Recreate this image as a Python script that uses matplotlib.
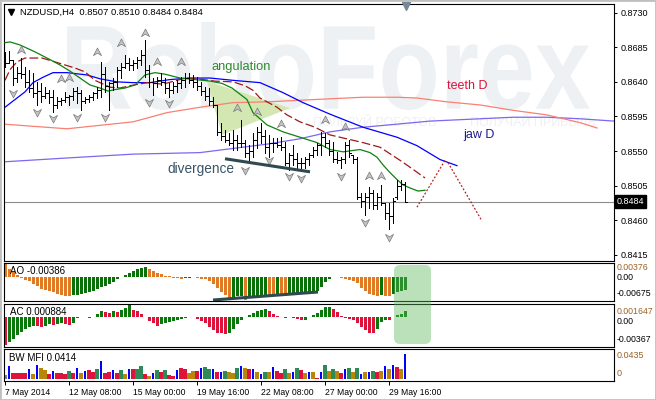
import numpy as np
import matplotlib
matplotlib.use("Agg")
import matplotlib.pyplot as plt
from matplotlib.path import Path
from matplotlib.patches import Polygon, FancyBboxPatch, PathPatch, Rectangle
from matplotlib.textpath import TextPath
from matplotlib.font_manager import FontProperties
from matplotlib.transforms import Affine2D, IdentityTransform, blended_transform_factory

plt.rcParams['font.family'] = ['Liberation Sans', 'DejaVu Sans']

# NZDUSD H4 bars, 7 May 16:00 .. 30 May 08:00
opens = [0.8672, 0.8665, 0.8668, 0.8645, 0.8652, 0.8650, 0.8640, 0.8632, 0.8625, 0.8628,
         0.8622, 0.8625, 0.8620, 0.8610, 0.8615, 0.8617, 0.8620, 0.8622, 0.8628, 0.8625,
         0.8615, 0.8618, 0.8620, 0.8625, 0.8630, 0.8650, 0.8635, 0.8638, 0.8640, 0.8655,
         0.8660, 0.8665, 0.8662, 0.8665, 0.8668, 0.8675, 0.8655, 0.8640, 0.8638, 0.8642,
         0.8640, 0.8632, 0.8630, 0.8635, 0.8638, 0.8642, 0.8645, 0.8642, 0.8640, 0.8635,
         0.8628, 0.8622, 0.8615, 0.8610, 0.8575, 0.8570, 0.8565, 0.8560, 0.8565, 0.8560,
         0.8560, 0.8548, 0.8550, 0.8565, 0.8575, 0.8570, 0.8555, 0.8560, 0.8560, 0.8558,
         0.8555, 0.8535, 0.8545, 0.8540, 0.8535, 0.8535, 0.8540, 0.8545, 0.8552, 0.8558,
         0.8568, 0.8560, 0.8550, 0.8540, 0.8538, 0.8540, 0.8558, 0.8545, 0.8540, 0.8490,
         0.8485, 0.8490, 0.8495, 0.8480, 0.8490, 0.8482, 0.8470, 0.8465, 0.8490, 0.8505,
         0.8507]
highs = [0.8679, 0.8680, 0.8669, 0.8659, 0.8671, 0.8659, 0.8656, 0.8652, 0.8640, 0.8639,
         0.8633, 0.8630, 0.8630, 0.8620, 0.8619, 0.8627, 0.8623, 0.8632, 0.8633, 0.8630,
         0.8620, 0.8623, 0.8627, 0.8633, 0.8666, 0.8659, 0.8640, 0.8645, 0.8659, 0.8665,
         0.8675, 0.8671, 0.8669, 0.8672, 0.8682, 0.8695, 0.8662, 0.8645, 0.8646, 0.8652,
         0.8645, 0.8639, 0.8640, 0.8643, 0.8646, 0.8652, 0.8652, 0.8649, 0.8646, 0.8640,
         0.8633, 0.8632, 0.8620, 0.8610, 0.8587, 0.8578, 0.8574, 0.8578, 0.8571, 0.8591,
         0.8565, 0.8558, 0.8574, 0.8581, 0.8587, 0.8578, 0.8571, 0.8567, 0.8567, 0.8568,
         0.8562, 0.8548, 0.8558, 0.8548, 0.8541, 0.8542, 0.8548, 0.8555, 0.8561, 0.8575,
         0.8574, 0.8565, 0.8562, 0.8549, 0.8542, 0.8562, 0.8565, 0.8545, 0.8542, 0.8496,
         0.8496, 0.8503, 0.8500, 0.8496, 0.8506, 0.8483, 0.8483, 0.8489, 0.8513, 0.8513,
         0.8510]
lows = [0.8659, 0.8665, 0.8636, 0.8640, 0.8645, 0.8633, 0.8627, 0.8620, 0.8610, 0.8614,
        0.8619, 0.8613, 0.8601, 0.8606, 0.8610, 0.8614, 0.8610, 0.8617, 0.8613, 0.8604,
        0.8613, 0.8614, 0.8617, 0.8619, 0.8620, 0.8627, 0.8604, 0.8630, 0.8633, 0.8645,
        0.8658, 0.8656, 0.8656, 0.8658, 0.8662, 0.8646, 0.8633, 0.8623, 0.8633, 0.8636,
        0.8626, 0.8620, 0.8626, 0.8627, 0.8632, 0.8633, 0.8639, 0.8633, 0.8630, 0.8623,
        0.8617, 0.8610, 0.8607, 0.8571, 0.8565, 0.8562, 0.8558, 0.8552, 0.8552, 0.8555,
        0.8542, 0.8536, 0.8542, 0.8554, 0.8561, 0.8548, 0.8542, 0.8549, 0.8555, 0.8552,
        0.8532, 0.8526, 0.8532, 0.8528, 0.8526, 0.8528, 0.8532, 0.8542, 0.8545, 0.8545,
        0.8555, 0.8545, 0.8536, 0.8535, 0.8528, 0.8535, 0.8542, 0.8535, 0.8487, 0.8477,
        0.8467, 0.8476, 0.8474, 0.8474, 0.8480, 0.8461, 0.8448, 0.8457, 0.8487, 0.8500,
        0.8484]
closes = [0.8665, 0.8668, 0.8645, 0.8652, 0.8650, 0.8640, 0.8632, 0.8625, 0.8628, 0.8622,
          0.8625, 0.8620, 0.8610, 0.8615, 0.8617, 0.8620, 0.8622, 0.8628, 0.8625, 0.8615,
          0.8618, 0.8620, 0.8625, 0.8630, 0.8650, 0.8635, 0.8638, 0.8640, 0.8655, 0.8660,
          0.8665, 0.8662, 0.8665, 0.8668, 0.8675, 0.8655, 0.8640, 0.8638, 0.8642, 0.8640,
          0.8632, 0.8630, 0.8635, 0.8638, 0.8642, 0.8645, 0.8642, 0.8640, 0.8635, 0.8628,
          0.8622, 0.8615, 0.8610, 0.8575, 0.8570, 0.8565, 0.8560, 0.8565, 0.8560, 0.8560,
          0.8548, 0.8550, 0.8565, 0.8575, 0.8570, 0.8555, 0.8560, 0.8560, 0.8558, 0.8555,
          0.8535, 0.8545, 0.8540, 0.8535, 0.8535, 0.8540, 0.8545, 0.8552, 0.8558, 0.8568,
          0.8560, 0.8550, 0.8540, 0.8538, 0.8540, 0.8558, 0.8548, 0.8540, 0.8490, 0.8485,
          0.8490, 0.8495, 0.8480, 0.8490, 0.8482, 0.8470, 0.8465, 0.8485, 0.8505, 0.8507,
          0.8484]

# alligator (current TF), lines read at bar positions
lips_x = [0, 1.25, 3.75, 7.5, 11.25, 13.75, 16.25, 18.75, 21.25, 23.75, 25.75, 27.5, 30, 32.5,
          35, 37.5, 40, 43.75, 47.5, 51.25, 54.25, 56.75, 60.5, 62, 65.5, 69.5, 73.75, 78,
          81.25, 84.5, 88.75, 91.25, 93, 94.5, 96.25, 98, 99.5, 101.25, 103.25, 105]
lips_y = [0.8691, 0.8692, 0.8688, 0.8679, 0.8669, 0.8662, 0.8654, 0.8645, 0.8636, 0.8632,
          0.8628, 0.8630, 0.8632, 0.8636, 0.8649, 0.8652, 0.8650, 0.8645, 0.8643, 0.8641,
          0.8638, 0.8632, 0.8617, 0.8600, 0.8584, 0.8575, 0.8568, 0.8561, 0.8552, 0.8549,
          0.8552, 0.8548, 0.8542, 0.8532, 0.8522, 0.8513, 0.8506, 0.8502, 0.8498, 0.8499]
teeth_x = [0, 1.25, 3, 5, 9.25, 12.5, 15, 17.5, 20, 22.5, 26.25, 28.75, 31.25, 35.5, 39.5,
           45, 48, 52.5, 57, 60, 62, 63.75, 68, 70.5, 73.75, 77.5, 81.25, 89.5, 93.75,
           98.75, 101.25, 105]
teeth_y = [0.8642, 0.8656, 0.8666, 0.8671, 0.8671, 0.8666, 0.8662, 0.8658, 0.8653, 0.8642,
           0.8633, 0.8632, 0.8635, 0.8639, 0.8637, 0.8645, 0.8644, 0.8641, 0.8640, 0.8635,
           0.8629, 0.8619, 0.8607, 0.8597, 0.8588, 0.8581, 0.8571, 0.8561, 0.8555, 0.8538,
           0.8529, 0.8515]
jaw_x = [0, 2.5, 5, 7, 9.5, 12, 15.5, 20.5, 23.75, 28, 32, 36.25, 41.25, 46.25, 51.25, 57,
         63.75, 69.5, 74.5, 81.25, 89.5, 98, 103, 108.75, 113]
jaw_y = [0.8607, 0.8617, 0.8627, 0.8639, 0.8646, 0.8652, 0.8652, 0.8649, 0.8644, 0.8640,
         0.8639, 0.8639, 0.8643, 0.8645, 0.8645, 0.8642, 0.8639, 0.8626, 0.8613, 0.8598,
         0.8581, 0.8568, 0.8557, 0.8539, 0.8531]
# alligator (daily TF)
teethD_x = [-0.25, 15.5, 32, 40.5, 48.75, 57, 65.5, 81.25, 89.5, 98, 103, 110.5, 118.75,
            127, 135.5, 143.75, 148]
teethD_y = [0.8585, 0.8579, 0.8588, 0.8600, 0.8607, 0.8613, 0.8614, 0.8618, 0.8620, 0.8620,
            0.8619, 0.8614, 0.8610, 0.8603, 0.8597, 0.8587, 0.8580]
jawD_x = [-0.25, 15.5, 32, 48.75, 65.5, 73.75, 81.25, 89.5, 98, 106.25, 118.75, 127, 135.5,
          143.75, 152.25]
jawD_y = [0.8536, 0.8541, 0.8546, 0.8548, 0.8559, 0.8566, 0.8575, 0.8581, 0.8585, 0.8589,
          0.8592, 0.8594, 0.8594, 0.8592, 0.8589]

# fractals
frac_up_x = [4, 14, 16, 23, 29, 35, 38, 44, 58, 63, 69, 80, 85, 91, 94]
frac_up_y = [0.8682, 0.8644, 0.8645, 0.8679, 0.8691, 0.8704, 0.8666, 0.8666, 0.8606, 0.8601,
             0.8585, 0.8591, 0.8581, 0.8517, 0.8517]
frac_dn_x = [2, 8, 12, 18, 25, 36, 41, 60, 66, 71, 74, 84, 90, 96]
frac_dn_y = [0.8626, 0.8601, 0.8593, 0.8594, 0.8594, 0.8614, 0.8613, 0.8526, 0.8539, 0.8517,
             0.8515, 0.8517, 0.8458, 0.8438]

# drawn objects
angul_x = [50.5, 71.25, 54.25]
angul_y = [0.8641, 0.8606, 0.8571]
div_x = [55, 76.25]
div_y = [0.8540, 0.8523]
proj1_x = [103.0, 110.0]
proj1_y = [0.8477, 0.8538]
proj2_x = [110.75, 119.25]
proj2_y = [0.8535, 0.8459]
ao_div_x = [52, 78.25]
ao_div_y = [-0.00684, -0.00451]

ao = [0.00376, 0.0022, 0.0012, 0.0003, -0.0003, -0.0010, -0.0014, -0.0021, -0.0029, -0.0035,
      -0.0038, -0.0041, -0.0046, -0.0050, -0.0053, -0.0056, -0.0058, -0.0055, -0.0053, -0.0051,
      -0.0048, -0.0045, -0.0041, -0.0037, -0.0032, -0.0027, -0.0021, -0.0015, -0.0008, -0.0002,
      0.0005, 0.0011, 0.0016, 0.0021, 0.0025, 0.0027, 0.0022, 0.0016, 0.0011, 0.0006,
      0.0002, 0.0001, -0.0003, -0.0005, -0.0006, -0.0004, -0.0003, -0.0002, -0.0004, -0.0006,
      -0.0008, -0.0013, -0.0021, -0.0033, -0.0045, -0.0055, -0.0062, -0.0060, -0.0058, -0.0056,
      -0.00675, -0.0063, -0.0061, -0.0059, -0.0057, -0.0055, -0.0057, -0.0058, -0.0055, -0.0056,
      -0.0057, -0.0054, -0.0052, -0.0051, -0.0050, -0.0049, -0.0048, -0.0046, -0.0041, -0.0030,
      -0.0016, -0.0006, -0.0002, -0.0001, -0.0004, -0.0007, -0.0010, -0.0013, -0.0020, -0.0033,
      -0.0043, -0.0051, -0.0055, -0.0056, -0.0053, -0.0056, -0.0058, -0.0050, -0.0046, -0.0042,
      -0.00386]
ac = [-0.00367, -0.0033, -0.0029, -0.0023, -0.0019, -0.0015, -0.0013, -0.0011, -0.0012, -0.0013,
      -0.0011, -0.0009, -0.0010, -0.0009, -0.0008, -0.0009, -0.0010, -0.0007, -0.0001, 0.0001,
      0.0000, -0.0001, 0.0001, 0.0005, 0.0008, 0.0007, 0.0006, 0.0008, 0.0007, 0.0009,
      0.0012, 0.001647, 0.0010, 0.0008, 0.0004, 0.0000, -0.0005, -0.0008, -0.0011, -0.0009,
      -0.0007, -0.0006, -0.0005, -0.0003, -0.0002, -0.0001, 0.0000, 0.0001, -0.0002, -0.0005,
      -0.0007, -0.0013, -0.0017, -0.0020, -0.0021, -0.0022, -0.0020, -0.0015, -0.0009, -0.0004,
      0.0001, 0.0003, 0.0006, 0.0008, 0.0010, 0.0011, 0.0008, 0.0005, 0.0002, 0.0001,
      -0.0001, 0.0000, -0.0001, -0.0002, -0.0004, -0.0003, 0.0001, 0.0003, 0.0006, 0.0010,
      0.0013, 0.0014, 0.0011, 0.0007, 0.0002, -0.0001, -0.0002, -0.0004, -0.0008, -0.0013,
      -0.0017, -0.0020, -0.0021, -0.0015, -0.0006, -0.0003, -0.0004, 0.0000, 0.0003, 0.0005,
      0.000884]
mfi = [0.0066, 0.0220, 0.0105, 0.0105, 0.0105, 0.0105, 0.0176, 0.0083, 0.0243, 0.0187,
       0.0149, 0.0094, 0.0132, 0.0105, 0.0105, 0.0094, 0.0143, 0.0105, 0.0187, 0.0105,
       0.0132, 0.0149, 0.0121, 0.0165, 0.0298, 0.0105, 0.0121, 0.0160, 0.0105, 0.0149,
       0.0094, 0.0165, 0.0176, 0.0176, 0.0215, 0.0083, 0.0050, 0.0105, 0.0149, 0.0121,
       0.0149, 0.0066, 0.0055, 0.0149, 0.0193, 0.0165, 0.0110, 0.0132, 0.0132, 0.0187,
       0.0204, 0.0176, 0.0165, 0.0121, 0.0121, 0.0143, 0.0121, 0.0105, 0.0187, 0.0221,
       0.0187, 0.0176, 0.0165, 0.0121, 0.0094, 0.0121, 0.0121, 0.0204, 0.0143, 0.0105,
       0.0165, 0.0105, 0.0121, 0.0187, 0.0160, 0.0105, 0.0121, 0.0121, 0.0022, 0.0121,
       0.0243, 0.0143, 0.0176, 0.0143, 0.0105, 0.0176, 0.0187, 0.0121, 0.0187, 0.0088,
       0.0121, 0.0121, 0.0143, 0.0121, 0.0143, 0.0221, 0.0176, 0.0232, 0.0204, 0.0165,
       0.0414]
# g = green, f = fade, k = fake, s = squat, n = first bar
mfi_state = ['n', 'k', 's', 's', 's', 's', 'k', 'f', 'k', 'f',
             'f', 's', 'k', 's', 's', 's', 'g', 's', 'k', 'f',
             'k', 's', 's', 'g', 'k', 's', 's', 'k', 's', 'g',
             'f', 'k', 's', 'g', 'g', 's', 'f', 'k', 'g', 's',
             'g', 's', 's', 'k', 's', 's', 'f', 'f', 's', 'k',
             'g', 'g', 'k', 's', 'k', 'g', 'f', 'f', 'g', 'k',
             'f', 's', 'k', 'f', 'k', 'g', 'f', 'k', 's', 's',
             'g', 'f', 'k', 'g', 's', 'f', 'k', 'f', 's', 'k',
             'g', 'f', 'g', 'f', 's', 'k', 'g', 'f', 'g', 'k',
             'f', 'k', 'g', 's', 'f', 'k', 'f', 'k', 's', 'f',
             'k']

time_pos = [0, 16, 32, 48, 64, 80, 96]
time_labels = ['7 May 2014', '12 May 08:00', '15 May 00:00', '19 May 16:00',
               '22 May 08:00', '27 May 00:00', '29 May 16:00']
price_ticks = [0.8415, 0.8460, 0.8505, 0.8550, 0.8595, 0.8640, 0.8685, 0.8730]

W, H = 656, 400


def px_box(x0, y0, x1, y1):
    return [x0 / W, 1 - y1 / H, (x1 - x0) / W, (y1 - y0) / H]


def main_frac(px, py):
    return ((px - 4) / 610, (261 - py) / 257)


fig = plt.figure(figsize=(W / 100, H / 100), dpi=100)
fig.patch.set_facecolor('white')
ax = fig.add_axes(px_box(4, 4, 614, 261))
ax_ao = fig.add_axes(px_box(4, 263, 614, 301))
ax_ac = fig.add_axes(px_box(4, 304, 614, 347))
ax_mfi = fig.add_axes(px_box(4, 349, 614, 381))

for a in (ax, ax_ao, ax_ac, ax_mfi):
    a.set_xlim(-0.25, 152.25)
    for s in a.spines.values():
        s.set_linewidth(0.8)
        s.set_color('black')
    a.set_xticks([])
    a.set_yticks([])

x = np.arange(len(closes))

# ---- main chart ----
ax.set_ylim(0.84070, 0.87413)

# watermark
tp = TextPath((0, 0), "RoboForex", size=100,
              prop=FontProperties(family='Liberation Sans', weight='bold'))
ext = tp.get_extents()
tr = Affine2D().translate(-ext.x0, -ext.y0).scale(523 / ext.width, 88 / ext.height).translate(67, H - 110)
ax.add_patch(PathPatch(tr.transform_path(tp), facecolor='#eef1f4', edgecolor='none',
                       transform=IdentityTransform(), zorder=0.2))
ax.text(*main_frac(313, 123), 'ПОЛЬЗУЙ РОБОТОВ', transform=ax.transAxes, fontsize=9,
        color='#eef0f3', va='center', zorder=0.3)
ax.text(*main_frac(470, 123), 'ПОЛУЧАЙ ПРИБЫЛЬ', transform=ax.transAxes, fontsize=9,
        color='#eef0f3', va='center', zorder=0.3)

ax.add_patch(Polygon(list(zip(angul_x, angul_y)), closed=True, facecolor='#d2e7b2',
                     edgecolor='none', zorder=1))

ax.axhline(closes[-1], color='#8c8c8c', lw=0.8, zorder=1.2)

ax.plot(jawD_x, jawD_y, color='#7b68ee', lw=0.9, zorder=2)
ax.plot(teethD_x, teethD_y, color='#fa8072', lw=0.9, zorder=2)
ax.plot(jaw_x, jaw_y, color='#0000ff', lw=0.9, zorder=3)
ax.plot(teeth_x, teeth_y, color='#a01818', lw=0.9, dashes=(7, 2.5), zorder=3)
ax.plot(lips_x, lips_y, color='#108010', lw=0.9, zorder=3)
ax.plot(proj1_x, proj1_y, color='#b22222', lw=0.9, dashes=(1.5, 1.5), zorder=3)
ax.plot(proj2_x, proj2_y, color='#b22222', lw=0.9, dashes=(1.5, 1.5), zorder=3)

ax.vlines(x, lows, highs, colors='black', lw=0.7, antialiased=False, zorder=4)
ax.hlines(opens, x - 0.38, x, colors='black', lw=0.7, antialiased=False, zorder=4)
ax.hlines(closes, x, x + 0.38, colors='black', lw=0.7, antialiased=False, zorder=4)

up_mark = Path([(0, 1), (0.9, -0.7), (0, -0.15), (-0.9, -0.7), (0, 1)],
               [Path.MOVETO, Path.LINETO, Path.LINETO, Path.LINETO, Path.CLOSEPOLY])
dn_mark = Path([(0, -1), (0.9, 0.7), (0, 0.15), (-0.9, 0.7), (0, -1)],
               [Path.MOVETO, Path.LINETO, Path.LINETO, Path.LINETO, Path.CLOSEPOLY])
ax.scatter(frac_up_x, frac_up_y, marker=up_mark, s=42, facecolor='#c4c4c4',
           edgecolor='#7a7a7a', linewidths=0.5, zorder=5)
ax.scatter(frac_dn_x, frac_dn_y, marker=dn_mark, s=42, facecolor='#c4c4c4',
           edgecolor='#7a7a7a', linewidths=0.5, zorder=5)

ax.plot(div_x, div_y, color='#2f4a4f', lw=2.2, solid_capstyle='butt', zorder=5)

ax.text(51.5, 0.8659, 'angulation', color='#2e8b2e', fontsize=9.3, va='center', zorder=6)
ax.text(40.5, 0.8527, 'divergence', color='#3a5466', fontsize=9.8, va='center', zorder=6)
ax.text(110.5, 0.8635, 'teeth D', color='#dc143c', fontsize=9, va='center', zorder=6)
ax.text(114.5, 0.8571, 'jaw D', color='#1c1c8c', fontsize=9, va='center', zorder=6)

ax.yaxis.tick_right()
ax.set_yticks(price_ticks)
ax.set_yticklabels([f'{t:.4f}' for t in price_ticks])
ax.tick_params(axis='y', direction='out', length=2.5, width=0.7, pad=2.5, labelsize=6.5)

btr = blended_transform_factory(ax.transAxes, ax.transData)
ax.text(1.005, closes[-1], f'{closes[-1]:.4f}', transform=btr, color='white', fontsize=6.5,
        va='center', ha='left', clip_on=False, zorder=10,
        bbox=dict(boxstyle='square,pad=0.2', facecolor='black', edgecolor='black'))

ax.plot(*main_frac(406, 6), marker='v', ms=5.5, color='#778899', transform=ax.transAxes,
        clip_on=False, zorder=10)
ax.plot(*main_frac(11, 12), marker='v', ms=4, color='black', transform=ax.transAxes,
        clip_on=False, zorder=10)
ax.text(*main_frac(20, 12), 'NZDUSD,H4  0.8507 0.8510 0.8484 0.8484', transform=ax.transAxes,
        fontsize=6.8, va='center', zorder=10)

# ---- AO ----
ao_arr = np.array(ao)
ao_up = np.r_[False, ao_arr[1:] > ao_arr[:-1]]
ax_ao.bar(x, ao_arr, width=0.75, color=np.where(ao_up, '#0a700a', '#e07a24'), linewidth=0)
ax_ao.set_ylim(-0.00713, 0.00393)
ax_ao.plot(ao_div_x, ao_div_y, color='#2f4a4f', lw=2.2, solid_capstyle='butt')

# ---- AC ----
ac_arr = np.array(ac)
ac_up = np.r_[False, ac_arr[1:] > ac_arr[:-1]]
ax_ac.bar(x, ac_arr, width=0.75, color=np.where(ac_up, '#0a780a', '#dc143c'), linewidth=0)
ax_ac.set_ylim(-0.00390, 0.00175)

# ---- BW MFI ----
state_col = {'g': '#2e8b57', 'f': '#b8860b', 'k': '#0000ff', 's': '#dc143c', 'n': '#708090'}
cols = [state_col[c] for c in mfi_state]
widths = [0.28 if c == 'k' else 0.8 for c in mfi_state]
ax_mfi.bar(x, mfi, width=widths, color=cols, linewidth=0)
ax_mfi.set_ylim(-0.0028, 0.0501)
ax_mfi.set_xticks(time_pos)
ax_mfi.set_xticklabels(time_labels, ha='left')
ax_mfi.tick_params(axis='x', direction='out', length=3, width=0.7, pad=2, labelsize=6.2)


def ftext(px, py, s, **kw):
    fig.text(px / W, 1 - py / H, s, va='center', **kw)


ftext(10, 271, 'AO -0.00386', fontsize=7)
ftext(10, 312, 'AC 0.000884', fontsize=7)
ftext(9, 358, 'BW MFI 0.0414', fontsize=7)
# right-scale values of the sub windows
brown = '#9a6226'
ftext(617, 268, '0.00376', fontsize=6.3, color=brown)
ftext(617, 277.5, '0.00', fontsize=6.3)
ftext(617, 294, '-0.00675', fontsize=6.3)
ftext(617, 312, '0.001647', fontsize=6.3, color=brown)
ftext(617, 321.5, '0.00', fontsize=6.3)
ftext(617, 340, '-0.00367', fontsize=6.3)
ftext(617, 356, '0.0435', fontsize=6.5, color=brown)
ftext(617, 373, '0', fontsize=6.5, color=brown)

hl = FancyBboxPatch((394, H - 344), 37, 79, boxstyle='round,pad=0,rounding_size=6',
                    transform=IdentityTransform(), facecolor='#5cb85c', alpha=0.42,
                    edgecolor='none', zorder=20)
fig.add_artist(hl)
fig.add_artist(Rectangle((0, 0), 1, 1, transform=fig.transFigure, fill=False,
                         edgecolor='#c0c0c0', lw=2, zorder=30))

fig.savefig('out.png', dpi=100, facecolor='white')
